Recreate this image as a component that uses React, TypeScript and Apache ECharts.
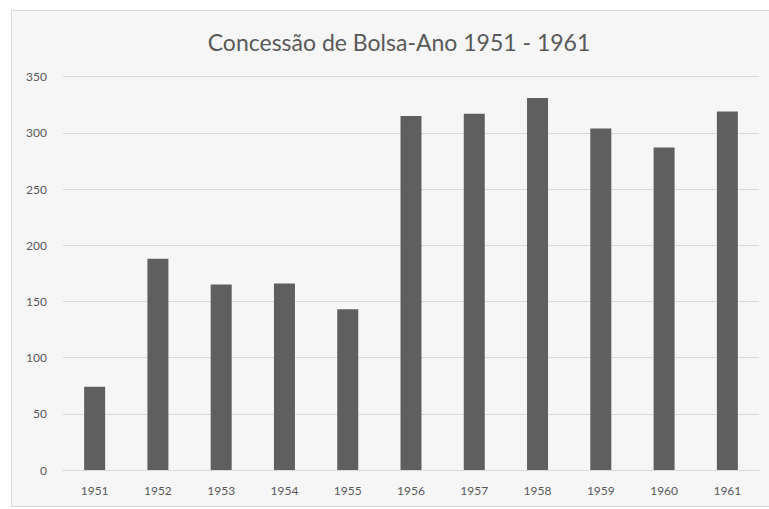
import React, { useEffect, useRef } from "react";
import * as echarts from "echarts";

const categories = ["1951", "1952", "1953", "1954", "1955", "1956", "1957", "1958", "1959", "1960", "1961"];
const values = [74, 188, 165, 166, 143, 315, 317, 331, 304, 287, 319];
const titleText = "Concessão de Bolsa-Ano 1951 - 1961";

export default function App() {
  const ref = useRef<HTMLDivElement>(null);
  useEffect(() => {
    if (!ref.current) return;
    const chart = echarts.init(ref.current, null, { renderer: "svg" });
    chart.setOption({
      animation: false,
      backgroundColor: "#ffffff",
      graphic: [
        {
          type: "rect",
          z: -10,
          silent: true,
          shape: { x: 11.5, y: 10.5, width: 760, height: 496 },
          style: { fill: "#f6f6f6", stroke: "#d9d9d9", lineWidth: 1 },
        },
      ],
      title: {
        text: titleText,
        left: 394,
        textAlign: "center",
        top: 25,
        textStyle: { fontFamily: "Lato", fontWeight: "normal", fontSize: 23, color: "#595959" },
      },
      grid: { left: 63, right: 10, top: 76.7, bottom: 39 },
      xAxis: {
        type: "category",
        data: categories,
        axisLine: { lineStyle: { color: "#d9d9d9" } },
        axisTick: { show: false },
        axisLabel: { color: "#595959", fontSize: 12, fontFamily: "Lato", margin: 14 },
      },
      yAxis: {
        type: "value",
        min: 0,
        max: 350,
        interval: 50,
        axisLine: { show: false },
        axisTick: { show: false },
        splitLine: { lineStyle: { color: "#d9d9d9" } },
        axisLabel: { color: "#595959", fontSize: 12, fontFamily: "Lato", margin: 16 },
      },
      series: [
        {
          type: "bar",
          data: values,
          barWidth: 21,
          itemStyle: { color: "#5f5f5f" },
        },
      ],
    });
    return () => chart.dispose();
  }, []);
  return <div ref={ref} style={{ position: "fixed", left: 0, top: 0, width: 769, height: 509 }} />;
}
